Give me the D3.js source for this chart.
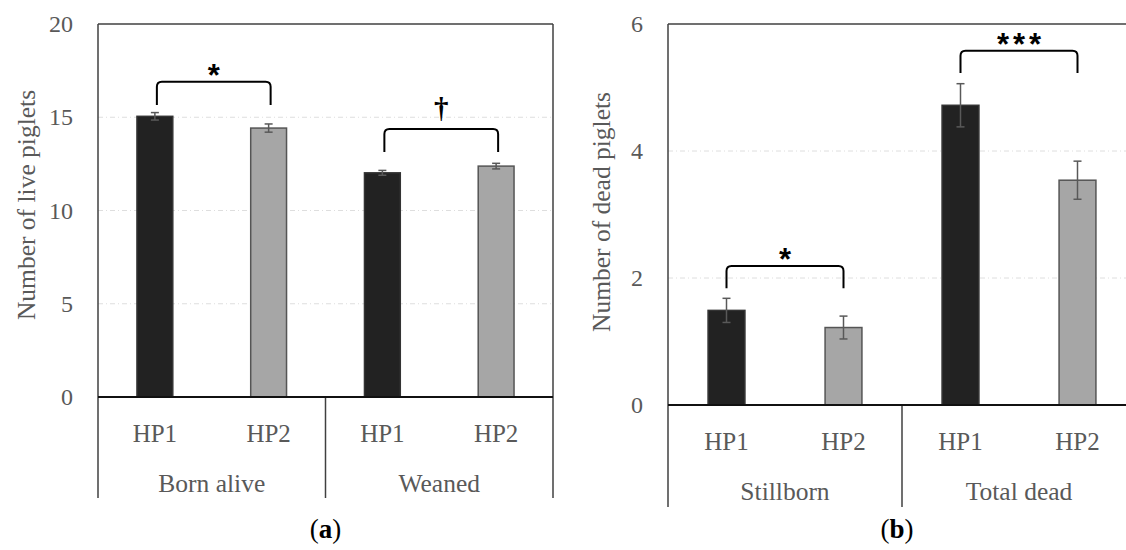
<!DOCTYPE html>
<html>
<head>
<meta charset="utf-8">
<script src="https://cdn.jsdelivr.net/npm/d3@7"></script>
<style>
  html, body { margin: 0; padding: 0; background: #fff; }
  svg { display: block; }
  .tick-label, .cat-label, .axis-title { font-family: "Liberation Serif", serif; fill: #595959; }
</style>
</head>
<body>
<div id="chart"></div>
<script>
// datos
const series = ["HP1", "HP2"];

const liveGroups = ["Born alive", "Weaned"];
const liveHP1 = [15.05, 12.02];
const liveHP2 = [14.42, 12.38];
const liveErrHP1 = [0.20, 0.13];
const liveErrHP2 = [0.22, 0.15];
const liveSig = ["*", "†"];
const liveBracketTop = [16.9, 14.37];
const liveBracketLeg = [15.66, 13.14];
const liveTicks = [0, 5, 10, 15, 20];

const deadGroups = ["Stillborn", "Total dead"];
const deadHP1 = [1.49, 4.72];
const deadHP2 = [1.22, 3.54];
const deadErrHP1 = [0.19, 0.34];
const deadErrHP2 = [0.18, 0.30];
const deadSig = ["*", "***"];
const deadBracketTop = [2.19, 5.58];
const deadBracketLeg = [1.84, 5.23];
const deadTicks = [0, 2, 4, 6];

const width = 1126, height = 550;
const colors = { HP1: "#222222", HP2: "#a6a6a6" };
const borders = { HP1: "#333333", HP2: "#555555" };

const svg = d3.select("#chart").append("svg")
  .attr("width", width)
  .attr("height", height);

function drawPanel(cfg) {
  const g = svg.append("g");
  const x0 = d3.scaleBand().domain(cfg.groups).range([cfg.left, cfg.right]);
  const x1 = d3.scaleBand().domain(series).range([0, x0.bandwidth()]);
  const y = d3.scaleLinear().domain([0, cfg.max]).range([cfg.bottom, cfg.top]);
  const barW = x1.bandwidth() * 0.315;
  const cx = (gr, s) => x0(gr) + x1(s) + x1.bandwidth() / 2;

  // líneas de cuadrícula
  g.selectAll(".grid")
    .data(cfg.ticks.filter(t => t > 0 && t < cfg.max))
    .enter().append("line")
    .attr("x1", cfg.left).attr("x2", cfg.right)
    .attr("y1", d => y(d)).attr("y2", d => y(d))
    .attr("stroke", "#dedede").attr("stroke-width", 1)
    .attr("stroke-dasharray", "5,3,1,3");

  // etiquetas del eje y
  g.selectAll(".tick-label")
    .data(cfg.ticks)
    .enter().append("text")
    .attr("class", "tick-label")
    .attr("x", cfg.left - 25)
    .attr("y", d => y(d))
    .attr("dy", "0.34em")
    .attr("text-anchor", "end")
    .style("font-size", "24px")
    .text(d => d);

  // título del eje y
  g.append("text")
    .attr("class", "axis-title")
    .attr("transform", `translate(${cfg.titleX},${cfg.titleY}) rotate(-90)`)
    .attr("text-anchor", "middle")
    .attr("dy", "0.34em")
    .style("font-size", "25.5px")
    .text(cfg.title);

  // barras
  const rows = [];
  cfg.groups.forEach((gr, i) => {
    rows.push({ group: gr, s: "HP1", v: cfg.hp1[i], e: cfg.err1[i] });
    rows.push({ group: gr, s: "HP2", v: cfg.hp2[i], e: cfg.err2[i] });
  });

  g.selectAll(".bar")
    .data(rows)
    .enter().append("rect")
    .attr("x", d => cx(d.group, d.s) - barW / 2)
    .attr("y", d => y(d.v))
    .attr("width", barW)
    .attr("height", d => y(0) - y(d.v))
    .attr("fill", d => colors[d.s])
    .attr("stroke", d => borders[d.s])
    .attr("stroke-width", 1.5);

  // barras de error
  const eb = g.selectAll(".err").data(rows).enter().append("g")
    .attr("stroke", "#595959").attr("stroke-width", 1.5);
  eb.append("line")
    .attr("x1", d => cx(d.group, d.s)).attr("x2", d => cx(d.group, d.s))
    .attr("y1", d => y(d.v + d.e)).attr("y2", d => y(d.v - d.e));
  eb.append("line")
    .attr("x1", d => cx(d.group, d.s) - 4).attr("x2", d => cx(d.group, d.s) + 4)
    .attr("y1", d => y(d.v + d.e)).attr("y2", d => y(d.v + d.e));
  eb.append("line")
    .attr("x1", d => cx(d.group, d.s) - 4).attr("x2", d => cx(d.group, d.s) + 4)
    .attr("y1", d => y(d.v - d.e)).attr("y2", d => y(d.v - d.e));

  // corchetes de significancia
  const r = 5;
  cfg.groups.forEach((gr, i) => {
    const xa = cx(gr, "HP1") + cfg.legShift, xb = cx(gr, "HP2") + cfg.legShift;
    const yt = y(cfg.bTop[i]), yl = y(cfg.bLeg[i]);
    g.append("path")
      .attr("d", `M${xa},${yl} L${xa},${yt + r} Q${xa},${yt} ${xa + r},${yt} L${xb - r},${yt} Q${xb},${yt} ${xb},${yt + r} L${xb},${yl}`)
      .attr("fill", "none").attr("stroke", "#000").attr("stroke-width", 2);
    const lbl = cfg.sig[i];
    const t = g.append("text")
      .attr("x", (xa + xb) / 2)
      .attr("text-anchor", "middle")
      .attr("fill", "#000")
      .text(lbl);
    if (lbl === "†") {
      t.attr("y", yt - 11).style("font-family", "Liberation Serif, serif")
        .style("font-weight", "bold").style("font-size", "29px");
    } else {
      t.attr("y", yt + 4).style("font-family", "Liberation Sans, sans-serif")
        .style("font-weight", "bold").style("font-size", "31px")
        .style("letter-spacing", lbl.length > 1 ? "4px" : "0px")
        .attr("dx", lbl.length > 1 ? 2 : 0);
    }
  });

  // marco
  const frame = "#404040";
  g.append("line").attr("x1", cfg.left).attr("x2", cfg.right)
    .attr("y1", cfg.top).attr("y2", cfg.top)
    .attr("stroke", frame).attr("stroke-width", 1.5);
  [cfg.left, cfg.right].forEach(xx => {
    g.append("line").attr("x1", xx).attr("x2", xx)
      .attr("y1", cfg.top).attr("y2", cfg.axisBottom)
      .attr("stroke", frame).attr("stroke-width", 1.5);
  });
  cfg.groups.slice(1).forEach(gr => {
    g.append("line").attr("x1", x0(gr)).attr("x2", x0(gr))
      .attr("y1", cfg.bottom).attr("y2", cfg.axisBottom)
      .attr("stroke", frame).attr("stroke-width", 1.5);
  });
  g.append("line").attr("x1", cfg.left).attr("x2", cfg.right)
    .attr("y1", cfg.bottom).attr("y2", cfg.bottom)
    .attr("stroke", "#111").attr("stroke-width", 2);

  // etiquetas de categoría
  g.selectAll(".sub-label")
    .data(rows)
    .enter().append("text")
    .attr("class", "cat-label")
    .attr("x", d => cx(d.group, d.s))
    .attr("y", cfg.bottom + 36)
    .attr("dy", "0.34em")
    .attr("text-anchor", "middle")
    .style("font-size", "25px")
    .text(d => d.s);

  g.selectAll(".grp-label")
    .data(cfg.groups)
    .enter().append("text")
    .attr("class", "cat-label")
    .attr("x", d => x0(d) + x0.bandwidth() / 2)
    .attr("y", cfg.bottom + 86)
    .attr("dy", "0.34em")
    .attr("text-anchor", "middle")
    .style("font-size", "25.5px")
    .text(d => d);

  // leyenda del panel
  const cap = g.append("text")
    .attr("x", (cfg.left + Math.min(cfg.right, width)) / 2)
    .attr("y", 538)
    .attr("text-anchor", "middle")
    .style("font-family", "Liberation Serif, serif")
    .style("font-size", "27px")
    .attr("fill", "#000");
  cap.append("tspan").text("(");
  cap.append("tspan").style("font-weight", "bold").text(cfg.caption);
  cap.append("tspan").text(")");
}

drawPanel({
  groups: liveGroups, hp1: liveHP1, hp2: liveHP2, err1: liveErrHP1, err2: liveErrHP2,
  sig: liveSig, bTop: liveBracketTop, bLeg: liveBracketLeg, ticks: liveTicks,
  max: 20, left: 98, right: 553, top: 24, bottom: 397, axisBottom: 498,
  titleX: 26, titleY: 205, title: "Number of live piglets", caption: "a", legShift: 2
});

drawPanel({
  groups: deadGroups, hp1: deadHP1, hp2: deadHP2, err1: deadErrHP1, err2: deadErrHP2,
  sig: deadSig, bTop: deadBracketTop, bLeg: deadBracketLeg, ticks: deadTicks,
  max: 6, left: 668, right: 1136, top: 24, bottom: 405, axisBottom: 507,
  titleX: 601, titleY: 212, title: "Number of dead piglets", caption: "b", legShift: 0
});
</script>
</body>
</html>
